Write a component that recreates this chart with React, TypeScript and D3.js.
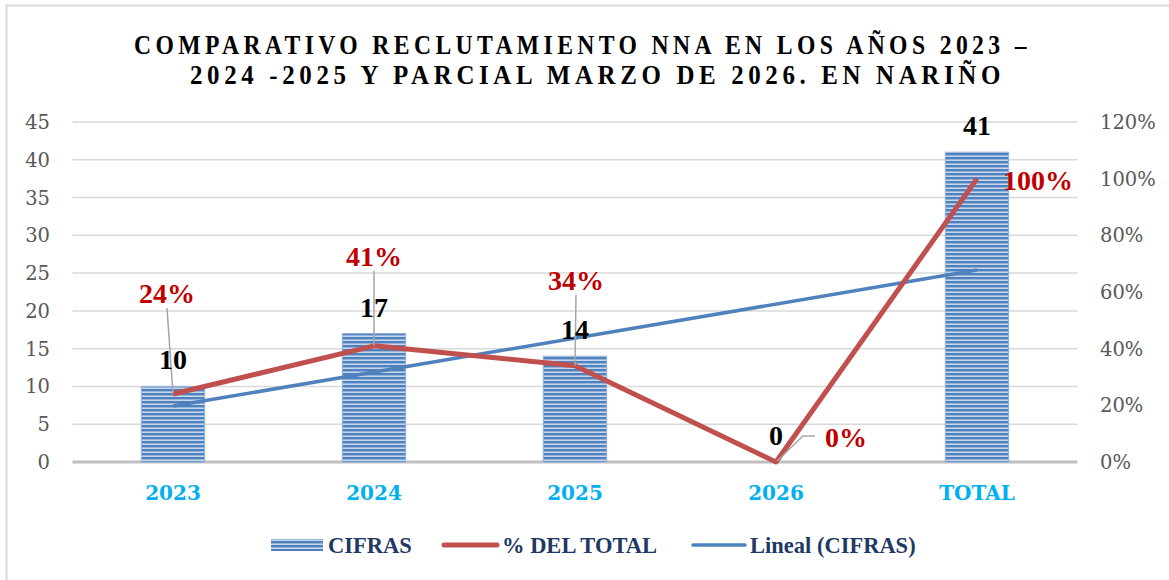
import React from "react";
import * as d3 from "d3";

const categories = ["2023", "2024", "2025", "2026", "TOTAL"];
const cifras = [10, 17, 14, 0, 41];
const pctTotal = [0.24, 0.41, 0.34, 0, 1.0];
const pctLabels = ["24%", "41%", "34%", "0%", "100%"];
// Excel linear trendline of CIFRAS, value at first and last category
const trendCats = ["2023", "TOTAL"];
const trendValues = [7.4, 25.4];
const leftTicks = [0, 5, 10, 15, 20, 25, 30, 35, 40, 45];
const rightTicks = [0, 0.2, 0.4, 0.6, 0.8, 1.0, 1.2];
const titleLines = [
  "COMPARATIVO RECLUTAMIENTO NNA EN LOS AÑOS 2023 –",
  "2024 -2025 Y PARCIAL MARZO DE 2026. EN NARIÑO",
];
const legendItems = ["CIFRAS", "% DEL TOTAL", "Lineal (CIFRAS)"];

const W = 1169;
const H = 580;
const plot = { left: 72.5, right: 1077.5, top: 122, bottom: 462 };

// label offsets (styling) relative to the data point
const pctOffsets = [
  { dx: -6, dy: -91, leader: true },
  { dx: 0, dy: -80, leader: true },
  { dx: 1, dy: -76, leader: true },
  { dx: 70, dy: -15, leader: true },
  { dx: 61, dy: 11, leader: false },
];

const NUM_FONT = "'DejaVu Serif', serif";
const LBL_FONT = "'Liberation Serif', 'Times New Roman', serif";

export default function App() {
  const x = d3.scaleBand<string>().domain(categories).range([plot.left, plot.right]).padding(0);
  const cx = (c: string) => (x(c) as number) + x.bandwidth() / 2;
  const y = d3.scaleLinear().domain([0, 45]).range([plot.bottom, plot.top]);
  const yR = d3.scaleLinear().domain([0, 1.2]).range([plot.bottom, plot.top]);
  const barW = x.bandwidth() * 0.315;

  const redLine = d3
    .line<number>()
    .x((_, i) => cx(categories[i]))
    .y((d) => yR(d))
    .curve(d3.curveLinear)(pctTotal) as string;

  const trendLine = d3
    .line<number>()
    .x((_, i) => cx(trendCats[i]))
    .y((d) => y(d))(trendValues) as string;

  const leftFmt = d3.format("d");
  const rightFmt = d3.format(".0%");

  return (
    <svg
      width={W}
      height={H}
      style={{ position: "absolute", left: 0, top: 0, background: "#fff" }}
    >
      <defs>
        <pattern id="stripes" patternUnits="userSpaceOnUse" width={8} height={4} y={1}>
          <rect x={0} y={0} width={8} height={4} fill="#c6d6ee" />
          <rect x={0} y={0} width={8} height={2.4} fill="#4f81bd" />
        </pattern>
      </defs>

      {/* chart border (left/top visible) */}
      <line x1={6.5} y1={5} x2={6.5} y2={H} stroke="#d9d9d9" strokeWidth={2} />
      <line x1={6} y1={5.5} x2={W} y2={5.5} stroke="#d9d9d9" strokeWidth={2} />

      {/* title */}
      <text
        x={134}
        y={54}
        textLength={897}
        lengthAdjust="spacingAndGlyphs"
        letterSpacing={5}
        fontFamily={LBL_FONT}
        fontWeight="bold"
        fontSize={27}
        fill="#000"
      >
        {titleLines[0]}
      </text>
      <text
        x={190}
        y={84}
        textLength={815}
        lengthAdjust="spacingAndGlyphs"
        letterSpacing={5}
        fontFamily={LBL_FONT}
        fontWeight="bold"
        fontSize={27}
        fill="#000"
      >
        {titleLines[1]}
      </text>

      {/* gridlines */}
      {leftTicks.map((t) =>
        t === 0 ? null : (
          <line
            key={t}
            x1={plot.left}
            x2={plot.right}
            y1={y(t)}
            y2={y(t)}
            stroke="#d9d9d9"
            strokeWidth={1.5}
          />
        )
      )}
      <line
        x1={plot.left}
        x2={plot.right}
        y1={y(0)}
        y2={y(0)}
        stroke="#bfbfbf"
        strokeWidth={3}
      />

      {/* left axis labels */}
      {leftTicks.map((t) => (
        <text
          key={"l" + t}
          x={50}
          y={y(t) + 7}
          textAnchor="end"
          fontFamily={NUM_FONT}
          fontSize={19.5}
          fill="#595959"
        >
          {leftFmt(t)}
        </text>
      ))}
      {/* right axis labels */}
      {rightTicks.map((t) => (
        <text
          key={"r" + t}
          x={1100}
          y={yR(t) + 7}
          textAnchor="start"
          fontFamily={NUM_FONT}
          fontSize={19.5}
          fill="#595959"
        >
          {rightFmt(t)}
        </text>
      ))}

      {/* bars */}
      {cifras.map((v, i) => (
        <rect
          key={"b" + i}
          x={cx(categories[i]) - barW / 2}
          y={y(v)}
          width={barW}
          height={y(0) - y(v)}
          fill="url(#stripes)"
          stroke="#8fb0dc"
          strokeWidth={v > 0 ? 1 : 0}
        />
      ))}

      {/* trend line */}
      <path d={trendLine} fill="none" stroke="#4f81bd" strokeWidth={3.5} />
      {/* % line */}
      <path d={redLine} fill="none" stroke="#c0504d" strokeWidth={5} strokeLinejoin="round" />

      {/* leader lines */}
      {pctTotal.map((p, i) => {
        const o = pctOffsets[i];
        if (!o.leader) return null;
        const px = cx(categories[i]);
        const py = yR(p);
        if (o.dx > 30) {
          const lx = px + o.dx - 31;
          const ly = py + o.dy - 11;
          return (
            <polyline
              key={"ld" + i}
              points={`${lx},${ly} ${lx - 12},${ly} ${px + 1},${py - 1}`}
              fill="none"
              stroke="#a6a6a6"
              strokeWidth={1.5}
            />
          );
        }
        return (
          <line
            key={"ld" + i}
            x1={px + o.dx}
            y1={py + o.dy + 5}
            x2={px}
            y2={py}
            stroke="#a6a6a6"
            strokeWidth={1.5}
          />
        );
      })}

      {/* value labels */}
      {cifras.map((v, i) => (
        <text
          key={"v" + i}
          x={cx(categories[i])}
          y={y(v) - 17}
          textAnchor="middle"
          fontFamily={LBL_FONT}
          fontWeight="bold"
          fontSize={28}
          fill="#000"
        >
          {v}
        </text>
      ))}
      {/* percent labels */}
      {pctTotal.map((p, i) => (
        <text
          key={"p" + i}
          x={cx(categories[i]) + pctOffsets[i].dx}
          y={yR(p) + pctOffsets[i].dy}
          textAnchor="middle"
          fontFamily={LBL_FONT}
          fontWeight="bold"
          fontSize={28}
          fill="#c00000"
        >
          {pctLabels[i]}
        </text>
      ))}

      {/* category labels */}
      {categories.map((c) => (
        <text
          key={"c" + c}
          x={cx(c)}
          y={500}
          textAnchor="middle"
          fontFamily={NUM_FONT}
          fontWeight="bold"
          fontSize={20}
          fill="#00b0f0"
        >
          {c}
        </text>
      ))}

      {/* legend */}
      <g>
        <rect x={271} y={539} width={52} height={12} fill="url(#stripes)" />
        <text x={328} y={553} fontFamily={LBL_FONT} fontWeight="bold" fontSize={22.5} fill="#1f3864">
          {legendItems[0]}
        </text>
        <line x1={444} x2={497} y1={545} y2={545} stroke="#c0504d" strokeWidth={5} strokeLinecap="round" />
        <text x={502} y={553} fontFamily={LBL_FONT} fontWeight="bold" fontSize={22.5} fill="#1f3864">
          {legendItems[1]}
        </text>
        <line x1={693} x2={745} y1={545} y2={545} stroke="#4f81bd" strokeWidth={3.5} strokeLinecap="round" />
        <text x={750} y={553} fontFamily={LBL_FONT} fontWeight="bold" fontSize={22.5} fill="#1f3864">
          {legendItems[2]}
        </text>
      </g>
    </svg>
  );
}
